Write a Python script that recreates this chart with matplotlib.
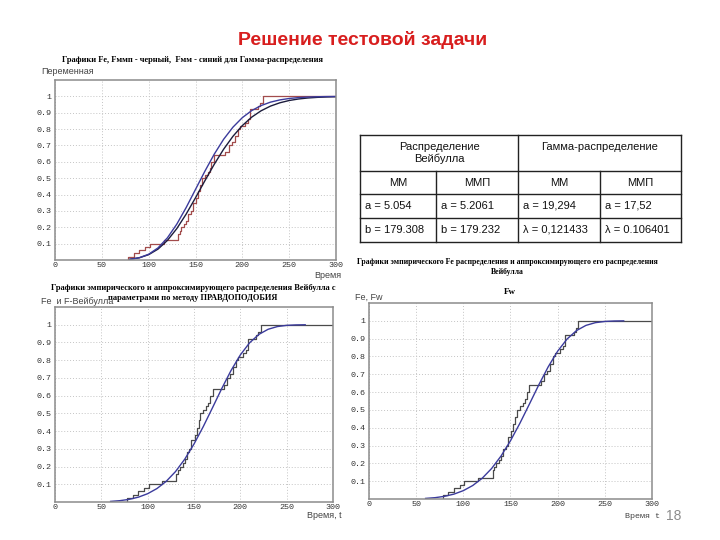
import matplotlib
matplotlib.use("Agg")
import matplotlib.pyplot as plt
import numpy as np

# эмпирическая функция распределения (ступеньки)
step_t = [78, 84, 90, 96, 101, 116, 131, 133, 135, 138, 140, 142, 145, 147, 151, 153,
          155, 157, 160, 163, 165, 167, 170, 182, 186, 189, 192, 195, 197, 203, 206,
          208, 217, 219, 222, 300]
step_F = [0.02, 0.04, 0.06, 0.08, 0.10, 0.12, 0.16, 0.18, 0.20, 0.22, 0.24, 0.28, 0.30,
          0.35, 0.38, 0.42, 0.46, 0.50, 0.52, 0.54, 0.56, 0.60, 0.64, 0.66, 0.70, 0.72,
          0.76, 0.80, 0.82, 0.84, 0.86, 0.92, 0.94, 0.96, 1.00, 1.00]

# гамма: ММ (синий) и ММП (черный)
gam_t = [80, 90, 100, 110, 120, 130, 140, 150, 160, 170, 180, 190, 200, 210, 220,
         230, 240, 250, 260, 270, 280, 290, 300]
gam_mm_F = [0.0044, 0.0138, 0.0352, 0.0741, 0.1354, 0.2189, 0.3202, 0.4313, 0.5425,
            0.6466, 0.7376, 0.8119, 0.8699, 0.9131, 0.9437, 0.9646, 0.9783, 0.9870,
            0.9924, 0.9957, 0.9976, 0.9987, 0.9993]
gam_mmp_F = [0.0046, 0.0136, 0.0326, 0.0667, 0.1196, 0.1916, 0.2803, 0.3802, 0.4841,
             0.5848, 0.6768, 0.7561, 0.8215, 0.8731, 0.9118, 0.9404, 0.9606, 0.9747,
             0.9840, 0.9901, 0.9939, 0.9964, 0.9979]

# Вейбулл
weib_t = [60, 70, 80, 90, 100, 110, 120, 130, 140, 150, 160, 170, 180, 190, 200, 210,
          220, 230, 240, 250, 260, 270]
weib_F = [0.0034, 0.0075, 0.0149, 0.0273, 0.0469, 0.0758, 0.1165, 0.1713, 0.2415,
          0.3270, 0.4254, 0.5322, 0.6406, 0.7421, 0.8297, 0.8980, 0.9454, 0.9744,
          0.9897, 0.9965, 0.9990, 0.9998]

# таблица
groups = ["Распределение\nВейбулла", "Гамма-распределение"]
methods = ["ММ", "ММП", "ММ", "ММП"]
row_a = ["a = 5.054", "a = 5.2061", "a = 19,294", "a = 17,52"]
row_b = ["b = 179.308", "b = 179.232", "λ = 0,121433", "λ = 0.106401"]

xticks = [0, 50, 100, 150, 200, 250, 300]
yticks = [0.1, 0.2, 0.3, 0.4, 0.5, 0.6, 0.7, 0.8, 0.9, 1.0]
ytick_labels = ["0.1", "0.2", "0.3", "0.4", "0.5", "0.6", "0.7", "0.8", "0.9", "1"]

W, H = 720, 540
fig = plt.figure(figsize=(7.2, 5.4), dpi=100)
fig.patch.set_facecolor("white")

def pos(l, t, r, b):
    return [l / W, 1 - b / H, (r - l) / W, (b - t) / H]

def style(ax):
    ax.set_xlim(0, 300)
    ax.set_ylim(0, 1.1)
    ax.set_xticks(xticks)
    ax.set_xticklabels([str(v) for v in xticks], family="Liberation Mono", fontsize=6, color="#333333")
    ax.set_yticks(yticks)
    ax.set_yticklabels(ytick_labels, family="Liberation Mono", fontsize=6, color="#333333")
    ax.tick_params(length=0)
    ax.tick_params(axis="y", pad=2.5)
    ax.tick_params(axis="x", pad=1.5)
    ax.grid(True, linestyle=(0, (1, 2)), color="#c4c4c4", linewidth=0.7)
    for s in ax.spines.values():
        s.set_color("#8c8c8c")
        s.set_linewidth(1.1)

def ecdf(ax, color):
    ax.step([step_t[0]] + step_t, [0.0] + step_F, where="post", color=color, lw=0.9)

def ftext(x, y, s, **kw):
    fig.text(x / W, 1 - y / H, s, **kw)

# заголовок слайда
ftext(363, 40, "Решение тестовой задачи", ha="center", va="center",
      family="Liberation Sans", fontweight="bold", fontsize=14, color="#d81e1e")

# верхний график (гамма)
ax1 = fig.add_axes(pos(55, 80, 336, 260))
style(ax1)
ecdf(ax1, "#a24c4c")
ax1.plot(gam_t, gam_mmp_F, color="#1c1c3c", lw=1.0)
ax1.plot(gam_t, gam_mm_F, color="#3b3b9c", lw=1.0)
ftext(192, 60, "Графики Fe, Fммп - черный,  Fмм - синий для Гамма-распределения",
      ha="center", va="center", family="Liberation Serif", fontweight="bold", fontsize=6)
ftext(41, 72, "Переменная", ha="left", va="center", family="Liberation Sans", fontsize=6.5, color="#444444")
ftext(341, 275, "Время", ha="right", va="center", family="Liberation Sans", fontsize=6.5, color="#444444")

# нижний левый (Вейбулл, ММП)
ax2 = fig.add_axes(pos(55, 307, 333, 502))
style(ax2)
ecdf(ax2, "#4a4a4a")
ax2.plot(weib_t, weib_F, color="#3b3b9c", lw=1.0)
ftext(193, 288, "Графики эмпирического и аппроксимирующего распределения Вейбулла с",
      ha="center", va="center", family="Liberation Serif", fontweight="bold", fontsize=6)
ftext(193, 298, "параметрами по методу ПРАВДОПОДОБИЯ",
      ha="center", va="center", family="Liberation Serif", fontweight="bold", fontsize=6)
ftext(41, 301, "Fe  и F-Вейбулла", ha="left", va="center", family="Liberation Sans", fontsize=6.5, color="#444444")
ftext(342, 516, "Время, t", ha="right", va="center", family="Liberation Sans", fontsize=6.5, color="#444444")

# нижний правый (Вейбулл)
ax3 = fig.add_axes(pos(369, 303, 652, 499))
style(ax3)
ecdf(ax3, "#4a4a4a")
ax3.plot(weib_t, weib_F, color="#3b3b9c", lw=1.0)
ftext(507, 262, "Графики эмпирического Fe распределения и аппроксимирующего его распределения",
      ha="center", va="center", family="Liberation Serif", fontweight="bold", fontsize=5.6)
ftext(507, 272, "Вейбулла", ha="center", va="center", family="Liberation Serif", fontweight="bold", fontsize=5.6)
ftext(510, 292, "Fw", ha="center", va="center", family="Liberation Serif", fontweight="bold", fontsize=6.5)
ftext(355, 297, "Fe, Fw", ha="left", va="center", family="Liberation Sans", fontsize=6.5, color="#444444")
ftext(660, 516, "Время t", ha="right", va="center", family="Liberation Mono", fontsize=6, color="#444444")
ftext(666, 516, "18", ha="left", va="center", family="Liberation Sans", fontsize=10, color="#8c8c8c")

# таблица параметров
tab = fig.add_axes([0, 0, 1, 1], zorder=-1)
tab.set_xlim(0, W)
tab.set_ylim(H, 0)
tab.axis("off")
cx = [360, 436, 518, 600, 681]
ry = [135, 171, 194, 218, 242]
lc = "#222222"
for y in ry:
    tab.plot([cx[0], cx[-1]], [y, y], color=lc, lw=1.0)
for i, x in enumerate(cx):
    top = ry[0] if i in (0, 2, 4) else ry[1]
    tab.plot([x, x], [top, ry[-1]], color=lc, lw=1.0)
tfont = dict(family="Liberation Sans", fontsize=8, color="#111111")
tab.text((cx[0] + cx[2]) / 2, (ry[0] + ry[1]) / 2, groups[0], ha="center", va="center",
         linespacing=1.2, **tfont)
tab.text((cx[2] + cx[4]) / 2, (ry[0] + ry[1]) / 2 - 6, groups[1], ha="center", va="center", **tfont)
for i in range(4):
    tab.text((cx[i] + cx[i + 1]) / 2, (ry[1] + ry[2]) / 2, methods[i], ha="center", va="center", **tfont)
    tab.text(cx[i] + 5, (ry[2] + ry[3]) / 2, row_a[i], ha="left", va="center", **tfont)
    tab.text(cx[i] + 5, (ry[3] + ry[4]) / 2, row_b[i], ha="left", va="center", **tfont)

fig.savefig("out.png", dpi=100)
